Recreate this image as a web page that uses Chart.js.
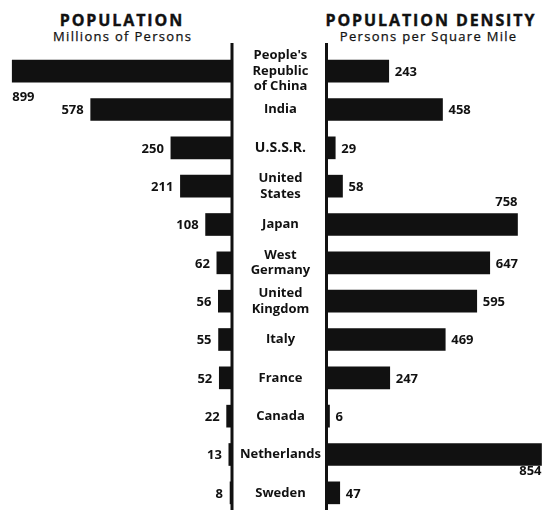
<!DOCTYPE html>
<html>
<head>
<meta charset="utf-8">
<script src="https://cdn.jsdelivr.net/npm/chart.js@4.4.1/dist/chart.umd.min.js"></script>
<style>
  html, body { margin: 0; padding: 0; background: #fff; }
  body { width: 544px; height: 510px; overflow: hidden; position: relative; font-family: 'Open Sans', sans-serif; color: #111; }
  .title { position: absolute; transform: translateX(-50%); white-space: nowrap; font-weight: 700; font-size: 16px; line-height: 16px; letter-spacing: 1.9px; padding-left: 1.9px; -webkit-text-stroke: 0.4px #111; }
  .sub { position: absolute; transform: translateX(-50%); white-space: nowrap; font-size: 13px; line-height: 13px; letter-spacing: 1.3px; padding-left: 1.3px; -webkit-text-stroke: 0.25px #111; }
  #leftChart { position: absolute; left: 0; top: 0; }
  #rightChart { position: absolute; left: 232px; top: 0; }
</style>
</head>
<body>
<div class="title" style="left:121px; top:12px">POPULATION</div>
<div class="sub" style="left:122px; top:30px">Millions of Persons</div>
<div class="title" style="left:430px; top:12px">POPULATION DENSITY</div>
<div class="sub" style="left:428px; top:30px">Persons per Square Mile</div>
<canvas id="leftChart" width="236" height="520"></canvas>
<canvas id="rightChart" width="312" height="520"></canvas>
<script>
// donnees
const countries = [["People's", "Republic", "of China"], "India", "U.S.S.R.", ["United", "States"], "Japan",
    ["West", "Germany"], ["United", "Kingdom"], "Italy", "France", "Canada", "Netherlands", "Sweden"];
const populationMillions = [899, 578, 250, 211, 108, 62, 56, 55, 52, 22, 13, 8];
const densityPerSqMile = [243, 458, 29, 58, 758, 647, 595, 469, 247, 6, 854, 47];

// echelles
const populationMax = 949;
const densityMax = 864;

// etiquettes placees hors de la position normale (index -> placement)
const leftSpecial = { 0: { align: 'left', dy: 30 } };
const rightSpecial = { 4: { align: 'right', dy: -19 }, 10: { align: 'right', dy: 20 } };
const emphasizedIndex = 2;

const ink = '#111';

const valueLabels = {
    id: 'valueLabels',
    afterDatasetsDraw(chart, args, opts) {
        const ctx = chart.ctx;
        const meta = chart.getDatasetMeta(0);
        const values = chart.data.datasets[0].data;
        ctx.save();
        ctx.fillStyle = ink;
        ctx.font = 'bold 13px "Open Sans"';
        meta.data.forEach((bar, i) => {
            const text = String(values[i]);
            const special = opts.special[i];
            if (special) {
                ctx.textAlign = special.align;
                ctx.textBaseline = 'alphabetic';
                ctx.fillText(text, bar.x, bar.y + special.dy);
            } else {
                ctx.textAlign = opts.side === 'left' ? 'right' : 'left';
                ctx.textBaseline = 'middle';
                ctx.fillText(text, bar.x + (opts.side === 'left' ? -7 : 6), bar.y + 1);
            }
        });
        ctx.restore();
    }
};

const centerRule = {
    id: 'centerRule',
    afterDatasetsDraw(chart, args, opts) {
        const ctx = chart.ctx;
        const area = chart.chartArea;
        const x = opts.side === 'left' ? area.right : area.left - 1.5;
        ctx.save();
        ctx.strokeStyle = ink;
        ctx.lineWidth = 3;
        ctx.beginPath();
        ctx.moveTo(x, 43);
        ctx.lineTo(x, chart.height);
        ctx.stroke();
        ctx.restore();
    }
};

function makeChart(id, values, max, side, special) {
    const left = side === 'left';
    return new Chart(document.getElementById(id), {
        type: 'bar',
        data: {
            labels: countries,
            datasets: [{
                data: values,
                backgroundColor: ink,
                borderWidth: 0,
                barThickness: 22
            }]
        },
        options: {
            indexAxis: 'y',
            responsive: false,
            animation: false,
            layout: { padding: { top: 52, bottom: 8, left: 0, right: left ? 4 : 0 } },
            scales: {
                x: { display: false, min: 0, max: max, reverse: left },
                y: {
                    display: !left,
                    grid: { display: false, drawTicks: false },
                    border: { display: false },
                    afterFit: (scale) => {
                        if (left) return;
                        scale.width = 96;
                        scale.paddingTop = 0;
                        scale.paddingBottom = 0;
                    },
                    ticks: {
                        autoSkip: false,
                        color: ink,
                        padding: 7,
                        crossAlign: 'center',
                        font: (c) => ({
                            family: 'Open Sans',
                            size: c.index === emphasizedIndex ? 14 : 13,
                            weight: 'bold',
                            lineHeight: 1.2
                        })
                    }
                }
            },
            plugins: {
                legend: { display: false },
                tooltip: { enabled: false },
                valueLabels: { side: side, special: special },
                centerRule: { side: side }
            }
        },
        plugins: [valueLabels, centerRule]
    });
}

makeChart('leftChart', populationMillions, populationMax, 'left', leftSpecial);
makeChart('rightChart', densityPerSqMile, densityMax, 'right', rightSpecial);
</script>
</body>
</html>
